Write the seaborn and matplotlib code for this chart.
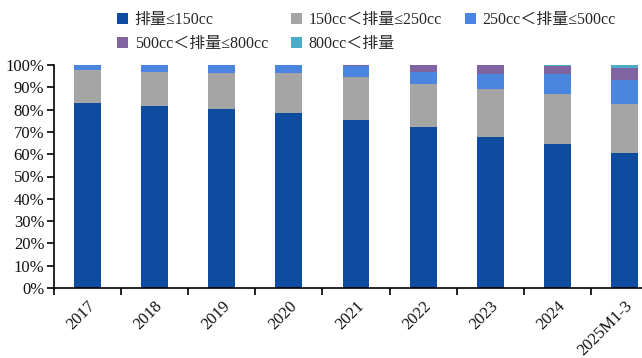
import matplotlib
matplotlib.use("Agg")
import matplotlib.pyplot as plt
from matplotlib.patches import Patch
from matplotlib.ticker import FuncFormatter, MultipleLocator
import numpy as np
import pandas as pd
import seaborn as sns

years = ["2017", "2018", "2019", "2020", "2021", "2022", "2023", "2024", "2025M1-3"]
series_names = ["排量≤150cc", "150cc＜排量≤250cc", "250cc＜排量≤500cc",
                "500cc＜排量≤800cc", "800cc＜排量"]
le150 = [83.0, 81.5, 80.4, 78.3, 75.2, 72.1, 67.6, 64.4, 60.4]
r150_250 = [14.8, 15.4, 16.1, 18.2, 19.3, 19.4, 21.6, 22.4, 22.1]
r250_500 = [2.2, 3.1, 3.5, 3.5, 5.0, 5.2, 6.8, 9.2, 10.6]
r500_800 = [0.0, 0.0, 0.0, 0.0, 0.5, 3.3, 4.0, 3.5, 5.4]
gt800 = [0.0, 0.0, 0.0, 0.0, 0.0, 0.0, 0.0, 0.5, 1.5]
colors = ["#0D4C9F", "#A5A5A5", "#4A86E0", "#8064A2", "#4BACC6"]

sns.set_theme(style="white")
plt.rcParams["font.family"] = ["Liberation Serif", "Noto Sans CJK SC", "DejaVu Sans"]

values = np.array([le150, r150_250, r250_500, r500_800, gt800])
cum = np.cumsum(values, axis=0)

fig = plt.figure(figsize=(6.42, 3.58), dpi=100)
ax = fig.add_axes([54 / 642, 1 - 288 / 358, 604 / 642, 223 / 358])

# stacked bars: draw cumulative totals from the top layer down
for i in range(len(series_names) - 1, -1, -1):
    df = pd.DataFrame({"year": years, "value": cum[i]})
    sns.barplot(data=df, x="year", y="value", order=years, color=colors[i],
                width=0.4, saturation=1, ax=ax, linewidth=0)

ax.set_ylim(0, 100)
ax.set_xlim(-0.5, len(years) - 0.5)
ax.yaxis.set_major_locator(MultipleLocator(10))
ax.yaxis.set_major_formatter(FuncFormatter(lambda v, p: f"{v:.0f}%"))
ax.set_xlabel("")
ax.set_ylabel("")

for s in ["top", "right"]:
    ax.spines[s].set_visible(False)
for s in ["left", "bottom"]:
    ax.spines[s].set_color("black")
    ax.spines[s].set_linewidth(1.2)

ax.set_xticks(np.arange(len(years)))
ax.set_xticklabels(years, rotation=45, ha="right", rotation_mode="anchor",
                   fontsize=12, color="#111111")
ax.set_xticks(np.arange(len(years)) - 0.5, minor=True)
ax.tick_params(axis="x", which="major", length=0, pad=7)
ax.tick_params(axis="x", which="minor", length=5, width=1.2, direction="out",
               color="black", bottom=True)
ax.tick_params(axis="y", length=5, width=1.2, direction="out", color="black",
               left=True, labelsize=12, labelcolor="#111111", pad=2)

# legend laid out row by row (matplotlib fills columns first)
order = [0, 3, 1, 4, 2]
handles = [Patch(facecolor=colors[k], edgecolor="none") for k in order]
labels = [series_names[k] for k in order]
fig.legend(handles, labels, ncol=3, loc="upper left",
           bbox_to_anchor=(106 / 642, 0.997), frameon=False, fontsize=11.5,
           handlelength=0.7, handleheight=0.7, handletextpad=0.4,
           columnspacing=1.45, labelspacing=0.5, borderaxespad=0.3)

fig.savefig("out.png", dpi=100)
